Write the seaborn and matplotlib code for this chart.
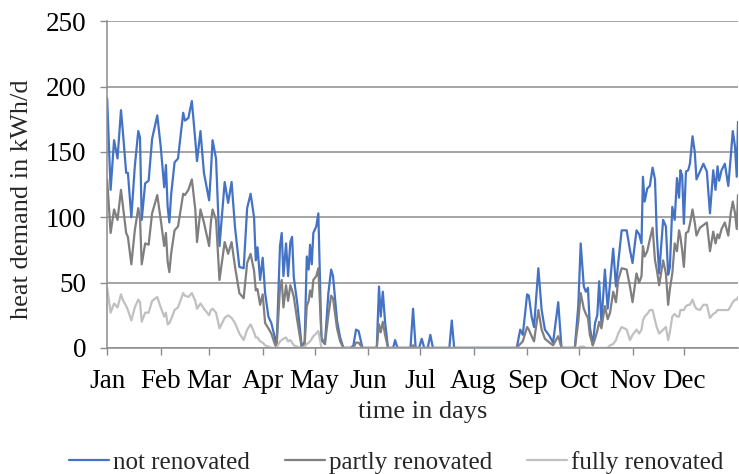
import seaborn as sns
import matplotlib.pyplot as plt

# daily heat demand (kWh/d) at the days where the lines turn
day = [0, 2, 4, 6, 8, 9, 11, 12, 14, 16, 18, 19, 20, 22, 24, 26, 29, 31, 33, 34,
       35, 36, 37, 39, 41, 44, 45, 47, 49, 51, 52, 54, 56, 59, 60, 61, 63, 65, 68, 70,
       72, 74,
       76.5, 79, 81, 83, 85, 86, 87, 88.5, 90, 91.4, 93.3, 95, 97, 98, 100, 101, 102,
       103.5, 104.7, 106, 107, 108, 110, 111.6, 112.6, 114.3, 115.5, 116.6, 117.4,
       118.4, 119.3, 121, 122.2, 124, 126, 128, 129.6, 130.7, 133, 134.8, 136.7,
       141, 142.5, 144, 145.5, 147.7, 156, 157.3, 158.3, 159.5, 160.8, 162.5, 165.5,
       166.6, 168, 175.5, 177, 178.5, 180.5, 182, 183.5, 185.5, 187, 188.5, 198, 199.4,
       200.8, 237,
       239, 240.5, 243, 244, 245.6, 247, 249.5, 251.4, 253.3, 256, 258, 261, 262.9,
       270.6, 272.6, 274, 275.8, 277, 278.2, 279.3, 281, 282.3, 283.6, 284.7, 286, 288,
       289.6, 291, 292.8, 294.4, 295.7, 297.7, 300.6, 302.5, 304, 306.3, 307.8, 309.2,
       310, 311, 312.5, 314, 315.6, 317, 318, 319.4, 321.7, 323.3, 324.6, 325.6, 327,
       328.4, 329.7, 330.9, 331.7, 332.7, 333.7, 334.9, 336.2, 337.2, 338.7, 340, 341,
       343, 345, 347, 348.8, 350.7, 352, 353.2, 354.1, 355.5, 357.4, 359.4, 360.8, 362,
       363.3, 364.3, 365]

not_renovated = [191, 121, 159, 145, 182, 167, 134, 134, 100, 139, 166, 161, 98, 126, 128,
                 160, 178, 154, 123, 140, 108, 96, 117, 142, 145, 180, 174, 176, 189, 159,
                 143, 166, 134, 113, 134, 159, 145, 78, 127, 111, 127, 92,
                 62, 61, 107, 118, 100, 67, 77, 52, 69, 42, 24, 19, 8, 0, 78, 88, 55, 80,
                 55, 81, 85, 54, 34, 14, 0, 5, 70, 60, 79, 64, 88, 93, 103, 6, 3, 42, 60,
                 55, 21, 8, 0,
                 0, 2, 14, 13, 0, 0, 47, 24, 43, 20, 0, 0, 6, 0, 0, 30, 0, 0, 7, 0, 0, 10,
                 0, 0, 21, 0, 0,
                 14, 10, 41, 40, 24, 16, 61, 29, 14, 9, 4, 35, 0, 0, 32, 80, 47, 43, 46,
                 16, 2, 19, 25, 51, 19, 60, 30, 50, 76, 47, 65, 90, 90, 75, 65, 90, 87, 80,
                 131, 112, 122, 124, 138, 129, 88, 57, 98, 93, 56, 62, 108, 98, 130, 115,
                 136, 132, 95, 135, 136, 141, 162, 150, 129, 135, 141, 135, 103, 136, 121,
                 139, 128, 136, 141, 124, 146, 166, 154, 131, 173]

partly_renovated = [129, 88, 106, 98, 121, 110, 88, 85, 64, 90, 107, 100, 64, 80, 79, 103,
                    117, 98, 78, 88, 66, 58, 72, 90, 93, 118, 117, 121, 129, 106, 81, 106,
                    96, 78, 96, 106, 98, 52, 81, 72, 81, 62,
                    42, 38, 65, 72, 59, 44, 45, 33, 41, 19, 15, 11, 3, 0, 46, 52, 31, 48,
                    36, 48, 44, 39, 21, 8, 0, 3, 32, 36, 44, 39, 52, 55, 61, 8, 3, 25, 40,
                    38, 15, 5, 0,
                    0, 0, 4, 4, 0, 0, 18, 12, 20, 10, 0, 0, 0, 0, 0, 2, 0, 0, 0, 0, 0, 0,
                    0, 0, 0, 0, 0,
                    3, 5, 16, 14, 9, 5, 29, 14, 7, 4, 2, 9, 0, 0, 20, 42, 30, 26, 23, 10,
                    2, 7, 13, 20, 15, 32, 22, 27, 43, 35, 52, 61, 60, 47, 35, 57, 50, 55,
                    78, 70, 74, 83, 92, 67, 60, 48, 67, 57, 33, 45, 57, 80, 74, 90, 85, 75,
                    62, 88, 89, 95, 106, 96, 86, 92, 94, 96, 74, 89, 80, 87, 84, 91, 96, 86,
                    103, 112, 103, 91, 117]

fully_renovated = [46, 27, 34, 31, 41, 37, 32, 29, 21, 31, 37, 35, 20, 27, 27, 36, 39, 31,
                   24, 27, 18, 19, 22, 29, 31, 42, 40, 39, 42, 36, 30, 34, 30, 25, 29, 30,
                   27, 15, 23, 25, 23, 19,
                   11, 6, 14, 18, 12, 8, 8, 5, 4, 2, 1, 0, 0, 0, 5, 6, 7, 8, 5, 6, 4, 2, 1,
                   0, 0, 1, 3, 4, 5, 7, 9, 11, 13, 0, 0, 0, 0, 0, 0, 0, 0,
                   0, 0, 0, 0, 0, 0, 0, 0, 0, 0, 0, 0, 0, 0, 0, 0, 0, 0, 0, 0, 0, 0, 0, 0,
                   0, 0, 0,
                   0, 0, 0, 0, 0, 0, 0, 0, 0, 0, 0, 0, 0, 0, 0, 1, 1, 0, 0, 0, 0, 0, 0, 0,
                   0, 0, 0, 2, 3, 6, 11, 16, 14, 6, 10, 14, 11, 14,
                   21, 24, 26, 29, 29, 21, 16, 11, 14, 16, 6, 12, 24, 26, 24, 24, 29, 29,
                   29, 32, 33, 33, 37, 32, 30, 29, 33, 33, 23, 26, 27, 29, 29, 29, 29, 29,
                   32, 35, 37, 37, 39]

month_start = [0, 31, 59, 90, 120, 151, 181, 212, 243, 273, 304, 334]
months = ["Jan", "Feb", "Mar", "Apr", "May", "Jun", "Jul", "Aug", "Sep", "Oct", "Nov", "Dec"]

sns.set_theme(style="white")
plt.rcParams['font.family'] = ['Liberation Serif', 'DejaVu Serif']

fig, ax = plt.subplots(figsize=(7.39, 4.74), dpi=100)
fig.subplots_adjust(left=0.145, right=0.9986, bottom=0.266, top=0.955)

sns.lineplot(x=day, y=not_renovated, ax=ax, color="#4472C4", lw=1.6, label="not renovated")
sns.lineplot(x=day, y=partly_renovated, ax=ax, color="#7F7F7F", lw=1.6, label="partly renovated")
sns.lineplot(x=day, y=fully_renovated, ax=ax, color="#C0C0C0", lw=1.6, label="fully renovated")

ax.set_xlim(0, 365)
ax.set_ylim(0, 250)
ax.set_yticks(range(0, 251, 50))
ax.set_xticks(month_start)
ax.set_xticklabels(months)
ax.yaxis.grid(True, color="#8c8c8c", lw=1.1)
ax.set_axisbelow(True)

ax.tick_params(axis="both", bottom=True, left=True, direction="out", length=5, width=1,
               color="#8c8c8c", labelsize=19.5, labelcolor="black", pad=10)
for side in ["top", "right"]:
    ax.spines[side].set_visible(False)
for side in ["left", "bottom"]:
    ax.spines[side].set_color("#8c8c8c")
    ax.spines[side].set_linewidth(1.1)

ax.set_xlabel("time in days", fontsize=19, labelpad=5)
ax.set_ylabel("heat demand in kWh/d", fontsize=19)
ax.yaxis.set_label_coords(-0.118, 0.456)

handles, labels = ax.get_legend_handles_labels()
ax.get_legend().remove()
fig.legend(handles, labels, loc="center", bbox_to_anchor=(0.536, 0.024), ncol=3,
           frameon=False, fontsize=18, handlelength=1.6, handletextpad=0.15,
           columnspacing=1.4)

fig.savefig("out.png", dpi=100)
